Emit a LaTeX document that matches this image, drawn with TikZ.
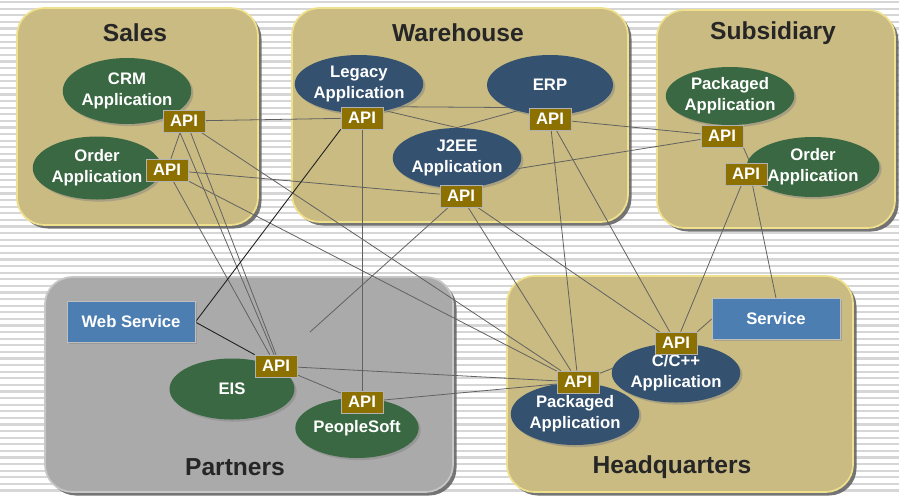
\documentclass[tikz,border=0pt]{standalone}
\usepackage{fontspec}
\setmainfont{Liberation Sans}
\usetikzlibrary{shapes.geometric,shadows}
\definecolor{zonetan}{RGB}{201,187,130}
\definecolor{zoneedge}{RGB}{238,224,140}
\definecolor{zonegray}{RGB}{170,170,170}
\definecolor{appgreen}{RGB}{58,104,66}
\definecolor{appblue}{RGB}{52,82,112}
\definecolor{apigold}{RGB}{140,112,0}
\definecolor{svcblue}{RGB}{76,126,178}
\definecolor{stripegray}{RGB}{214,214,214}
\pgfdeclarelayer{zones}
\pgfdeclarelayer{wires}
\pgfsetlayers{zones,wires,main}

\begin{document}
\begin{tikzpicture}[x=0.02cm, y=-0.02cm,
  zone/.style={draw=zoneedge, line width=1pt, fill=zonetan, rounded corners=0.55cm,
    drop shadow={shadow xshift=2pt, shadow yshift=-2pt, fill=black!60, opacity=0.9}},
  zonetitle/.style={text=black!85, font=\fontsize{14}{16}\selectfont\bfseries},
  appgreenel/.style={ellipse, fill=appgreen, text=white, inner sep=0pt, align=center,
    minimum width=2.5cm, minimum height=1.2cm, font=\fontsize{9.5}{12}\selectfont\bfseries,
    drop shadow={shadow xshift=1.2pt, shadow yshift=-1.2pt, opacity=0.45}},
  appblueel/.style={appgreenel, fill=appblue},
  apibox/.style={rectangle, fill=apigold, draw=black!30, text=white, inner sep=0pt,
    minimum width=0.84cm, minimum height=0.44cm, font=\fontsize{9.5}{11}\selectfont\bfseries},
  svcbox/.style={rectangle, fill=svcblue, draw=black!25, text=white, inner sep=0pt,
    minimum width=2.56cm, minimum height=0.82cm, font=\fontsize{9.5}{11}\selectfont\bfseries,
    drop shadow={shadow xshift=1pt, shadow yshift=-1pt, opacity=0.4}},
  wire/.style={draw=black!62, line width=0.45pt},
  darkwire/.style={draw=black!88, line width=0.5pt}]

\useasboundingbox (0,0) rectangle (899,495);

\begin{pgfonlayer}{zones}
\fill[white] (0,0) rectangle (899,495);
\foreach \i in {0,...,75}
  \fill[stripegray] (0,1+\i*6.6) rectangle (899,3.2+\i*6.6);
\draw[zone] (17,8) rectangle (258,225);
\draw[zone] (292,8) rectangle (628,222);
\draw[zone] (657,10) rectangle (895,228);
\draw[zone, fill=zonegray, draw=black!22] (45,277) rectangle (453,492);
\draw[zone] (507,276) rectangle (853,492);
\end{pgfonlayer}

% zone titles
\node[zonetitle] (tsales) at (135,33) {Sales};
\node[zonetitle] (twarehouse) at (458,33) {Warehouse};
\node[zonetitle] (tsubsidiary) at (773,33) {Subsidiary};
\node[zonetitle] (tpartners) at (235,467) {Partners};
\node[zonetitle] (theadquarters) at (672,467) {Headquarters};

% applications
\node[appgreenel, minimum width=2.48cm, minimum height=1.32cm] (crm) at (127,91) {CRM\\Application};
\node[appgreenel, minimum height=1.26cm] (salesorder) at (97,168) {Order\\Application};
\node[appblueel, minimum width=2.56cm, minimum height=1.16cm] (legacy) at (359,84) {Legacy\\Application};
\node[appblueel, minimum width=2.52cm] (erp) at (550,85) {ERP};
\node[appblueel] (j2ee) at (457,158) {J2EE\\Application};
\node[appgreenel, minimum width=2.48cm, minimum height=1.16cm] (subpack) at (730,96) {Packaged\\Application};
\node[appgreenel, minimum width=2.66cm] (suborder) at (813,167) {Order\\Application};
\node[appgreenel, minimum height=1.22cm] (eis) at (232,389) {EIS};
\node[appgreenel, minimum width=2.46cm] (psoft) at (357,428) {PeopleSoft};
\node[appblueel, minimum height=1.18cm] (cpp) at (676,373) {C/C++\\Application};
\node[appblueel, minimum width=2.48cm, minimum height=1.24cm] (hqpack) at (575,414) {Packaged\\Application};

% services
\node[svcbox] (websvc) at (131,322) {Web Service};
\node[svcbox] (service) at (776,319) {Service};

% api boxes
\node[apibox] (apicrm) at (184,121) {API};
\node[apibox] (apisorder) at (167,170) {API};
\node[apibox] (apilegacy) at (362,118) {API};
\node[apibox] (apierp) at (550,119) {API};
\node[apibox] (apij2ee) at (461,196) {API};
\node[apibox] (apisubpack) at (722,136) {API};
\node[apibox] (apisuborder) at (746,174) {API};
\node[apibox] (apieis) at (276,366) {API};
\node[apibox] (apipsoft) at (362,402) {API};
\node[apibox] (apicpp) at (676,343) {API};
\node[apibox] (apihqpack) at (578,382) {API};

\coordinate (stub) at (310,332);

\begin{pgfonlayer}{wires}
\draw[wire] (apicrm) -- (apilegacy);
\draw[wire] (apicrm) -- (apisorder);
\draw[wire] (apicrm.-110) -- (apieis.100);
\draw[wire] (apicrm.-60) -- (apieis.north);
\draw[wire] (apicrm) -- (apihqpack);
\draw[wire] (apisorder) -- (apij2ee);
\draw[wire] (apisorder) -- (apieis);
\draw[wire] (apisorder) -- (apihqpack);
\draw[darkwire] (apilegacy.south west) -- (websvc.east);
\draw[wire] (apilegacy) -- (apipsoft);
\draw[wire] (apilegacy.north east) -- (apierp.north west);
\draw[wire] (apilegacy.20) -- (j2ee.north);
\draw[wire] (j2ee.north) -- (apierp.north west);
\draw[wire] (apierp) -- (apisubpack);
\draw[wire] (apierp) -- (apihqpack);
\draw[wire] (apierp) -- (apicpp);
\draw[wire] (j2ee.-10) -- (apisubpack);
\draw[wire] (apij2ee) -- (stub);
\draw[wire] (apij2ee) -- (apihqpack);
\draw[wire] (apij2ee) -- (apicpp);
\draw[wire] (apisubpack.south east) -- (apisuborder.70);
\draw[wire] (apisuborder) -- (apicpp);
\draw[wire] (apisuborder.-60) -- (service.north);
\draw[wire] (service.west) -- (apicpp.north east);
\draw[darkwire] (websvc.east) -- (apieis.north west);
\draw[wire] (apieis) -- (apipsoft);
\draw[wire] (apieis) -- (apihqpack);
\draw[wire] (apipsoft) -- (apihqpack);
\draw[wire] (apihqpack) -- (apicpp);
\end{pgfonlayer}
\end{tikzpicture}
\end{document}
